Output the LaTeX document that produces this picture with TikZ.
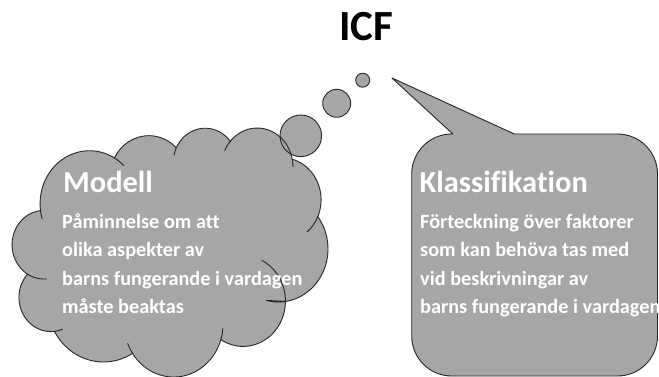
\documentclass[tikz,border=0pt]{standalone}
\usepackage{fontspec}
\setmainfont{Carlito}[Ligatures=NoCommon]
\definecolor{shapefill}{HTML}{A6A6A6}
\definecolor{shapeline}{HTML}{262626}
% end point of an elliptic arc that starts at (#1,#2), radii #3/#4,
% geometric start angle #5 and sweep #6; result in \curx, \cury
\newcommand\arcend[6]{%
  \pgfmathsetmacro\angs{atan2((#3)*sin(#5),(#4)*cos(#5))}%
  \pgfmathsetmacro\ange{atan2((#3)*sin((#5)+(#6)),(#4)*cos((#5)+(#6)))}%
  \pgfmathsetmacro\curx{(#1)-(#3)*cos(\angs)+(#3)*cos(\ange)}%
  \pgfmathsetmacro\cury{(#2)-(#4)*sin(\angs)+(#4)*sin(\ange)}%
}
% store in #1 a sampled elliptic arc starting at (#2,#3), radii #4/#5,
% geometric start angle #6 and sweep #7
\newcommand\arcpiece[7]{%
  \pgfmathsetmacro\angs{atan2((#4)*sin(#6),(#5)*cos(#6))}%
  \pgfmathsetmacro\ange{atan2((#4)*sin((#6)+(#7)),(#5)*cos((#6)+(#7)))}%
  \pgfmathsetmacro\ange{ifthenelse(\ange<\angs,\ange+360,\ange)}%
  \pgfmathsetmacro\ctrx{(#2)-(#4)*cos(\angs)}%
  \pgfmathsetmacro\ctry{(#3)-(#5)*sin(\angs)}%
  \xdef#1{-- plot[domain=\angs:\ange, samples=40, variable=\noexpand\t, smooth]
    ({\ctrx+(#4)*cos(\noexpand\t)},{\ctry+(#5)*sin(\noexpand\t)})}%
}
\tikzset{
  shapestroke/.style={draw=shapeline, line width=0.9pt, line join=round},
  cloudframe/.style={shift={(12,128)}, x=0.73148pt, y=-0.57639pt},
  headtext/.style={inner sep=0pt, anchor=base west, text=white, font=\fontsize{30.5}{36}\selectfont\bfseries},
  bodytext/.style={inner sep=0pt, anchor=base west, text=white, font=\fontsize{20.3}{24}\selectfont\bfseries},
}
\begin{document}
\begin{tikzpicture}[x=1pt, y=-1pt]
\useasboundingbox[fill=white] (0,0) rectangle (659,377);

% outline of the cloud: eleven bulges
\arcpiece\bulgeA{39.00}{143.70}{67.53}{91.90}{-190.4875}{123.7805}
\arcpiece\bulgeB{140.00}{51.92}{53.33}{72.67}{-144.1024}{89.9452}
\arcend{221.41}{47.20}{43.65}{59.45}{-163.4943}{17.6864}
\arcpiece\bulgeC{\curx}{\cury}{43.65}{59.45}{-145.8079}{99.7230}
\arcend{290.78}{39.52}{48.57}{65.95}{-149.1815}{18.1954}
\arcpiece\bulgeD{\curx}{\cury}{48.57}{65.95}{-130.9861}{117.2417}
\arcpiece\bulgeE{383.24}{54.26}{53.33}{72.73}{-78.7089}{109.0269}
\arcpiece\bulgeF{417.98}{153.54}{67.75}{92.20}{-46.2690}{146.7356}
\arcend{341.29}{229.54}{57.85}{78.67}{-70.2924}{70.9174}
\arcpiece\bulgeG{\curx}{\cury}{57.85}{78.67}{0.6250}{114.0333}
\arcend{288.27}{347.51}{67.52}{92.15}{6.4533}{15.9984}
\arcpiece\bulgeH{\curx}{\cury}{67.52}{92.15}{22.4516}{115.1726}
\arcpiece\bulgeI{164.78}{390.90}{77.20}{105.43}{66.2426}{75.7110}
\arcend{69.28}{348.99}{43.60}{59.18}{73.6105}{11.4475}
\arcpiece\bulgeJ{\curx}{\cury}{43.60}{59.18}{-274.9421}{146.7356}
\arcend{46.93}{261.77}{43.45}{59.45}{86.7420}{26.4295}
\arcpiece\bulgeK{\curx}{\cury}{43.45}{59.45}{-246.8285}{152.5189}

% inner folds of the cloud
\arcpiece\foldA{46.93}{261.77}{43.45}{59.45}{86.7420}{26.4295}
\arcpiece\foldB{69.28}{348.99}{43.60}{59.18}{73.6105}{11.4475}
\arcpiece\foldC{164.78}{390.90}{67.52}{92.15}{137.6242}{14.0811}
\arcpiece\foldD{288.27}{347.51}{67.52}{92.15}{6.4533}{15.9984}
\arcpiece\foldE{341.29}{229.54}{57.85}{78.67}{-70.2924}{70.9174}
\arcpiece\foldF{417.98}{153.54}{53.33}{72.73}{30.3180}{27.7515}
\arcpiece\foldG{383.24}{54.26}{48.57}{65.95}{-13.7443}{14.8589}
\arcpiece\foldH{290.78}{39.52}{48.57}{65.95}{-149.1815}{18.1954}
\arcpiece\foldI{221.41}{47.20}{43.65}{59.45}{-163.4943}{17.6864}
\arcpiece\foldJ{140.00}{51.92}{67.53}{91.90}{-66.7070}{12.3194}
\arcpiece\foldK{41.27}{157.89}{67.53}{91.90}{157.6544}{11.8582}

% title
\node[inner sep=0pt, anchor=base, font=\fontsize{43}{50}\selectfont\bfseries] (title) at (366,40.7) {ICF};

% fills first, so that every outline stays visible
\fill[shapefill, cloudframe] (39.00,143.70) \bulgeA \bulgeB \bulgeC \bulgeD \bulgeE \bulgeF \bulgeG \bulgeH \bulgeI \bulgeJ \bulgeK -- cycle;
\fill[shapefill] (300.8,135.8) circle[radius=20.8];
\fill[shapefill] (336.7,103.3) circle[radius=14];
\fill[shapefill] (362.7,80.2) circle[radius=7];

\draw[shapestroke, cloudframe] (39.00,143.70) \bulgeA \bulgeB \bulgeC \bulgeD \bulgeE \bulgeF \bulgeG \bulgeH \bulgeI \bulgeJ \bulgeK -- cycle;
\draw[shapestroke, cloudframe]
  (46.93,261.77) \foldA  (69.28,348.99) \foldB  (164.78,390.90) \foldC
  (288.27,347.51) \foldD  (341.29,229.54) \foldE  (417.98,153.54) \foldF
  (383.24,54.26) \foldG  (290.78,39.52) \foldH  (221.41,47.20) \foldI
  (140.00,51.92) \foldJ  (41.27,157.89) \foldK;
\draw[shapestroke] (300.8,135.8) circle[radius=20.8];
\draw[shapestroke] (336.7,103.3) circle[radius=14];
\draw[shapestroke] (362.7,80.2) circle[radius=7];

% speech bubble with rounded corners and a pointer
\draw[shapestroke, fill=shapefill]
  (451.7,134) -- (452.8,134) -- (392,78) -- (514.3,134) -- (617.5,134)
  arc[start angle=270, end angle=360, radius=40] -- (657.5,336)
  arc[start angle=0, end angle=90, radius=40] -- (451.7,376)
  arc[start angle=90, end angle=180, radius=40] -- (411.7,174)
  arc[start angle=180, end angle=270, radius=40] -- cycle;

% cloud texts
\node[headtext] (modell) at (63,192.7) {Modell};
\node[bodytext] (m1) at (62,228) {Påminnelse om att};
\node[bodytext] (m2) at (62,256.7) {olika aspekter av};
\node[bodytext] (m3) at (62,285) {barns fungerande i vardagen};
\node[bodytext] (m4) at (62,313.5) {måste beaktas};

% bubble texts
\node[headtext] (klass) at (419.5,192.7) {Klassifikation};
\node[bodytext] (k1) at (420,228) {Förteckning över faktorer};
\node[bodytext] (k2) at (420,256.7) {som kan behöva tas med};
\node[bodytext] (k3) at (420,285) {vid beskrivningar av};
\node[bodytext] (k4) at (420,313.5) {barns fungerande i vardagen};
\end{tikzpicture}
\end{document}
